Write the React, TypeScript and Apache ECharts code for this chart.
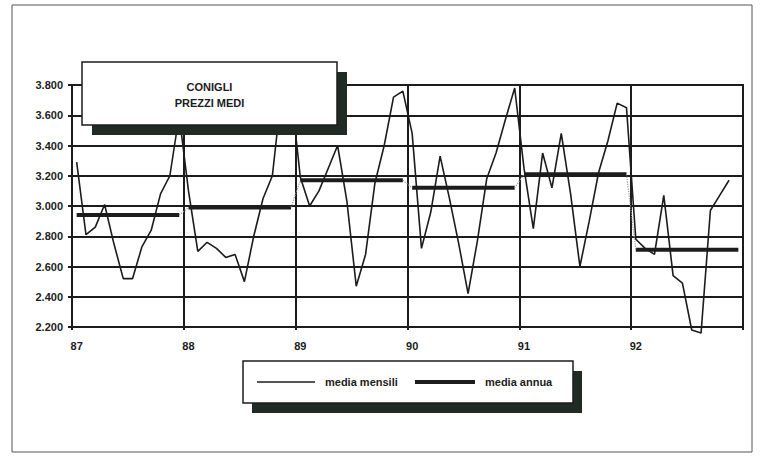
import React, { useEffect, useRef } from "react";
import * as echarts from "echarts";

// Years shown on the x axis (one label per January)
const years = ["87", "88", "89", "90", "91", "92"];

// Monthly average prices (lire/kg)
const m87 = [3290, 2810, 2860, 3010, 2750, 2520, 2520, 2730, 2840, 3080, 3200, 3600];
const m88 = [3100, 2700, 2760, 2720, 2660, 2680, 2500, 2800, 3050, 3200, 3760, 3760];
const m89 = [3190, 3000, 3100, 3250, 3400, 3030, 2470, 2680, 3150, 3400, 3720, 3760];
const m90 = [3480, 2720, 2960, 3330, 3050, 2750, 2420, 2770, 3180, 3350, 3570, 3780];
const m91 = [3250, 2850, 3350, 3120, 3480, 3080, 2600, 2900, 3220, 3430, 3680, 3650];
const m92 = [2780, 2720, 2680, 3070, 2540, 2490, 2180, 2160, 2970, 3070, 3170];

// Annual averages
const annual = [2940, 2990, 3170, 3120, 3210, 2710];

// Y axis range
const yMin = 2200;
const yMax = 3800;
const yStep = 200;

const titleLines = ["CONIGLI", "PREZZI MEDI"];
const seriesNames = ["media mensili", "media annua"];

const FONT = "'Liberation Sans', Arial, sans-serif";
const INK = "#1c1c1c";

export default function App() {
  const ref = useRef<HTMLDivElement>(null);

  useEffect(() => {
    if (!ref.current) return;
    const chart = echarts.init(ref.current, null, { renderer: "svg" });

    const categories = years.flatMap((y) =>
      Array.from({ length: 12 }, (_, m) => `${m + 1}/${y}`)
    );
    const monthly = [...m87, ...m88, ...m89, ...m90, ...m91, ...m92];

    const annualSeries = years.map((_, i) => ({
      name: seriesNames[1],
      type: "line",
      data: categories.map((_, k) => (Math.floor(k / 12) === i ? annual[i] : null)),
      showSymbol: false,
      symbol: "none",
      lineStyle: { color: INK, width: 4 },
      z: 3,
    }));

    const connectors = categories.map((_, k) => {
      const yi = Math.floor(k / 12);
      const m = k % 12;
      if (m === 11 && yi < years.length - 1) return annual[yi];
      if (m === 0 && yi > 0) return annual[yi];
      return null;
    });

    const fmtY = (v: number) =>
      `${Math.floor(v / 1000)}.${String(v % 1000).padStart(3, "0")}`;

    const option: any = {
      animation: false,
      backgroundColor: "#ffffff",
      grid: {
        left: 72,
        top: 85,
        width: 671,
        height: 242,
        show: true,
        borderColor: INK,
        borderWidth: 2,
        backgroundColor: "transparent",
      },
      xAxis: {
        type: "category",
        data: categories,
        boundaryGap: true,
        axisLine: { show: true, lineStyle: { color: INK, width: 2 } },
        axisTick: {
          show: true,
          interval: 11,
          length: 3,
          lineStyle: { color: INK, width: 2 },
        },
        axisLabel: {
          interval: 11,
          margin: 13,
          color: INK,
          fontFamily: FONT,
          fontWeight: "bold",
          fontSize: 11,
          formatter: (v: string) => v.split("/")[1],
        },
        splitLine: {
          show: true,
          interval: 11,
          lineStyle: { color: INK, width: 2 },
        },
      },
      yAxis: {
        type: "value",
        min: yMin,
        max: yMax,
        interval: yStep,
        axisLine: { show: true, lineStyle: { color: INK, width: 2 } },
        axisTick: { show: true, length: 4, lineStyle: { color: INK, width: 2 } },
        axisLabel: {
          margin: 9,
          color: INK,
          fontFamily: FONT,
          fontWeight: "bold",
          fontSize: 11,
          formatter: fmtY,
        },
        splitLine: { show: true, lineStyle: { color: INK, width: 2 } },
      },
      series: [
        {
          name: seriesNames[0],
          type: "line",
          data: monthly,
          showSymbol: false,
          symbol: "none",
          clip: false,
          lineStyle: { color: INK, width: 1.6 },
          z: 4,
        },
        ...annualSeries,
        {
          name: "connector",
          type: "line",
          data: connectors,
          showSymbol: false,
          symbol: "none",
          connectNulls: false,
          lineStyle: { color: "#9a9a9a", width: 1.2, type: "dotted" },
          z: 3,
        },
      ],
      graphic: [
        {
          type: "rect",
          shape: { x: 12, y: 5, width: 740, height: 447 },
          style: { fill: "none", stroke: "#555", lineWidth: 1 },
          z: 1,
          silent: true,
        },
        // Title box with shadow
        {
          type: "rect",
          shape: { x: 92, y: 72, width: 255, height: 63 },
          style: { fill: "#1f2b24" },
          z: 50,
        },
        {
          type: "rect",
          shape: { x: 82, y: 62, width: 255, height: 63 },
          style: { fill: "#ffffff", stroke: INK, lineWidth: 1.5 },
          z: 51,
        },
        {
          type: "text",
          x: 209.5,
          y: 87,
          style: {
            text: titleLines[0],
            fill: INK,
            font: `bold 11px ${FONT}`,
            align: "center",
            verticalAlign: "middle",
          },
          z: 52,
        },
        {
          type: "text",
          x: 209.5,
          y: 103,
          style: {
            text: titleLines[1],
            fill: INK,
            font: `bold 11px ${FONT}`,
            align: "center",
            verticalAlign: "middle",
          },
          z: 52,
        },
        // Legend box with shadow
        {
          type: "rect",
          shape: { x: 252, y: 371, width: 330, height: 42 },
          style: { fill: "#1f2b24" },
          z: 50,
        },
        {
          type: "rect",
          shape: { x: 243, y: 361, width: 330, height: 42 },
          style: { fill: "#ffffff", stroke: INK, lineWidth: 1.5 },
          z: 51,
        },
        {
          type: "line",
          shape: { x1: 257, y1: 382, x2: 315, y2: 382 },
          style: { stroke: INK, lineWidth: 1.6 },
          z: 52,
        },
        {
          type: "text",
          x: 325,
          y: 382,
          style: {
            text: seriesNames[0],
            fill: INK,
            font: `bold 11px ${FONT}`,
            align: "left",
            verticalAlign: "middle",
          },
          z: 52,
        },
        {
          type: "line",
          shape: { x1: 415, y1: 382, x2: 475, y2: 382 },
          style: { stroke: INK, lineWidth: 4 },
          z: 52,
        },
        {
          type: "text",
          x: 485,
          y: 382,
          style: {
            text: seriesNames[1],
            fill: INK,
            font: `bold 11px ${FONT}`,
            align: "left",
            verticalAlign: "middle",
          },
          z: 52,
        },
      ],
    };

    chart.setOption(option);
    return () => chart.dispose();
  }, []);

  return (
    <div
      ref={ref}
      style={{ position: "fixed", left: 0, top: 0, width: 768, height: 457, background: "#fff" }}
    />
  );
}
